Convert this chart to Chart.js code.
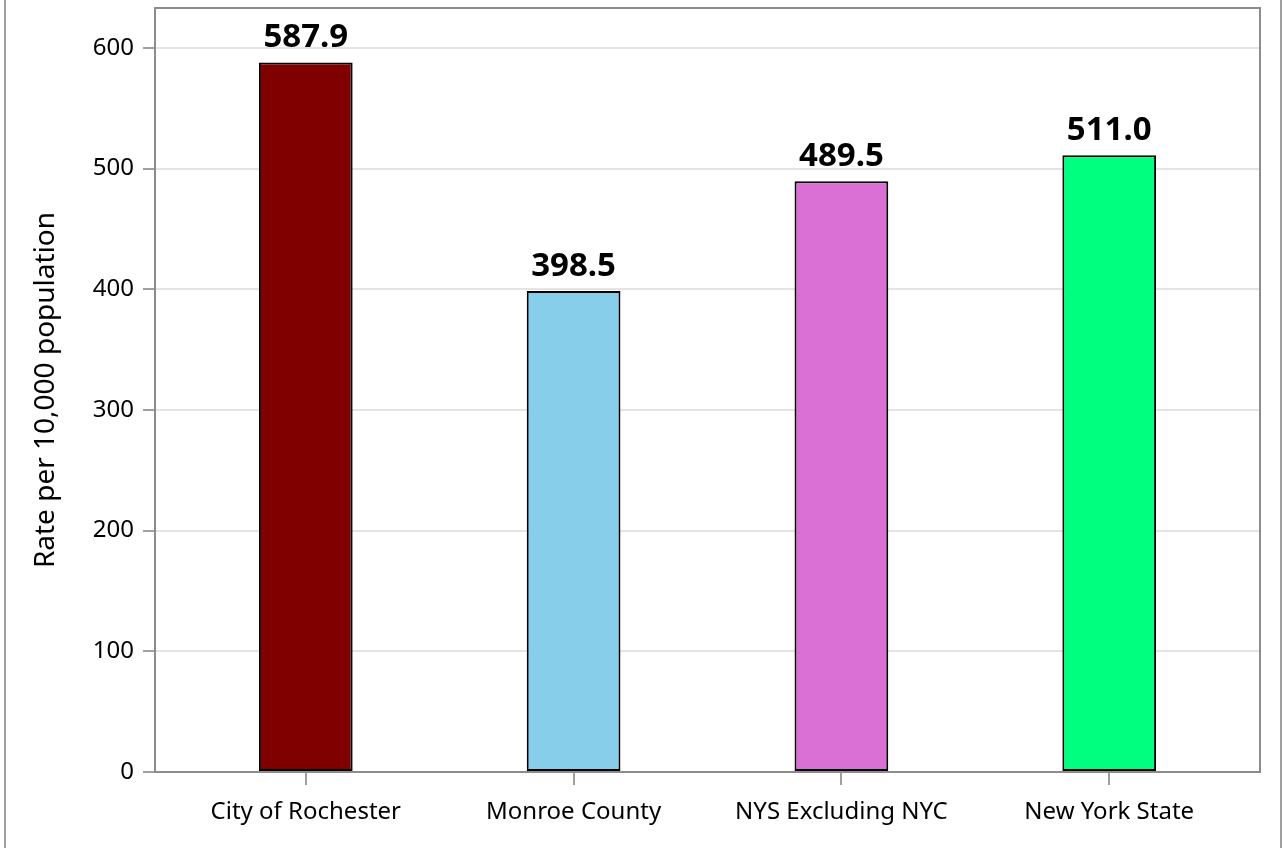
<!DOCTYPE html>
<html>
<head>
<meta charset="utf-8">
<script src="https://cdn.jsdelivr.net/npm/chart.js@4/dist/chart.umd.min.js"></script>
<style>
  html, body { margin: 0; padding: 0; background: #fff; }
  #wrap { width: 1283px; height: 848px; position: relative; }
</style>
</head>
<body>
<div id="wrap"><canvas id="rateChart"></canvas></div>
<script>
  const categories = ['City of Rochester', 'Monroe County', 'NYS Excluding NYC', 'New York State'];
  const rates = [587.9, 398.5, 489.5, 511.0];
  const barColors = ['#800000', '#87CEEB', '#DA70D6', '#00FF7F'];
  const yTicks = [0, 100, 200, 300, 400, 500, 600];

  const fontFamily = '"Noto Sans", "Open Sans", sans-serif';

  // outer frame + top/right edges of plot box
  const framePlugin = {
    id: 'frame',
    beforeDraw(chart) {
      const ctx = chart.ctx;
      ctx.save();
      ctx.strokeStyle = '#a0a0a0';
      ctx.lineWidth = 2;
      ctx.beginPath();
      ctx.moveTo(5, -5); ctx.lineTo(5, chart.height + 5);
      ctx.moveTo(1281, -5); ctx.lineTo(1281, chart.height + 5);
      ctx.stroke();
      ctx.restore();
    },
    afterDraw(chart) {
      const a = chart.chartArea;
      const ctx = chart.ctx;
      ctx.save();
      ctx.strokeStyle = '#8c8c8c';
      ctx.lineWidth = 2;
      ctx.beginPath();
      ctx.moveTo(a.left, a.top);
      ctx.lineTo(a.right, a.top);
      ctx.lineTo(a.right, a.bottom);
      ctx.stroke();
      ctx.restore();
    }
  };

  const valueLabels = {
    id: 'valueLabels',
    afterDatasetsDraw(chart) {
      const ctx = chart.ctx;
      const meta = chart.getDatasetMeta(0);
      ctx.save();
      ctx.font = 'bold 33px ' + fontFamily;
      ctx.fillStyle = '#000';
      ctx.textAlign = 'center';
      ctx.textBaseline = 'alphabetic';
      meta.data.forEach((bar, i) => {
        ctx.fillText(rates[i].toFixed(1), bar.x, bar.y - 15);
      });
      ctx.restore();
    }
  };

  new Chart(document.getElementById('rateChart'), {
    type: 'bar',
    data: {
      labels: categories,
      datasets: [{
        data: rates,
        backgroundColor: barColors,
        borderColor: '#000',
        borderWidth: 2,
        borderSkipped: false,
        categoryPercentage: 0.35,
        barPercentage: 1
      }]
    },
    options: {
      responsive: true,
      maintainAspectRatio: false,
      animation: false,
      layout: { padding: { top: 8, right: 23, left: 0, bottom: 0 } },
      plugins: { legend: { display: false }, tooltip: { enabled: false } },
      scales: {
        x: {
          offset: true,
          afterBuildTicks(scale) {
            // extra room on both sides of the outer bars
            scale._startValue = -0.563;
            scale._valueRange = categories.length - 1 + 2 * 0.563;
          },
          afterFit(scale) {
            scale.height = 76;
            scale.paddingLeft = 0;
            scale.paddingRight = 0;
          },
          grid: { offset: false, drawOnChartArea: false, color: '#a0a0a0', lineWidth: 2, tickLength: 13 },
          border: { color: '#8c8c8c', width: 2 },
          ticks: { color: '#000', font: { family: fontFamily, size: 24 }, padding: 13, maxRotation: 0 }
        },
        y: {
          min: 0,
          max: 633,
          afterBuildTicks(scale) { scale.ticks = yTicks.map(v => ({ value: v })); },
          afterFit(scale) {
            scale.width = 155;
            scale.paddingTop = 0;
            scale.paddingBottom = 0;
          },
          grid: { color: '#e4e4e4', lineWidth: 2, tickColor: '#a0a0a0', tickLength: 12 },
          border: { color: '#8c8c8c', width: 2 },
          ticks: { color: '#000', font: { family: fontFamily, size: 24 }, padding: 9 },
          title: {
            display: true,
            text: 'Rate per 10,000 population',
            color: '#000',
            font: { family: fontFamily, size: 28 },
            padding: { top: 29, bottom: 0 }
          }
        }
      }
    },
    plugins: [framePlugin, valueLabels]
  });
</script>
</body>
</html>
